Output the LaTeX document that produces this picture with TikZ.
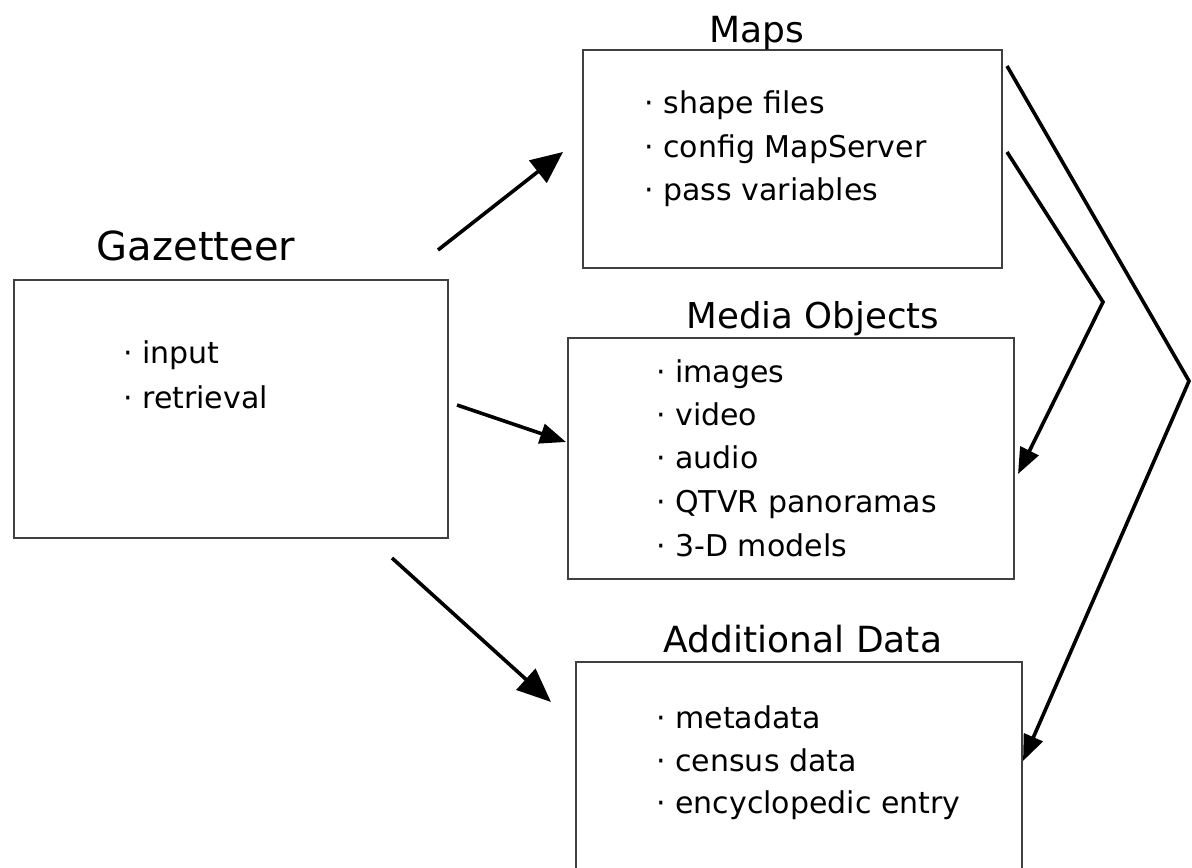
\documentclass[tikz,border=0pt]{standalone}
\usepackage{fontspec}
\setmainfont{DejaVu Sans}
\usetikzlibrary{arrows.meta}
\tikzset{
  box/.style={draw=black!75, line width=1pt, inner sep=0pt, outer sep=0pt, fill=none},
  title/.style={inner sep=0pt, anchor=base},
  item/.style={inner sep=0pt, anchor=base west, font=\fontsize{15}{18}\selectfont},
  conn/.style={line width=1.8pt, black, line join=miter},
  bigtip/.style={-{Triangle[length=16pt,width=14pt]}},
  midtip/.style={-{Triangle[length=13pt,width=10pt]}},
}
\newcommand{\bul}[1]{\makebox[0pt][r]{·\hspace{4.5pt}}#1}
\begin{document}
\begin{tikzpicture}[x=0.5pt,y=-0.5pt]
\useasboundingbox (0,0) rectangle (1192,867);
\clip (0,0) rectangle (1192,867);
\fill[white] (0,0) rectangle (1192,867);
% boxes
\node[box, minimum width=217pt, minimum height=129pt] (gaz) at (231,409) {};
\node[box, minimum width=209.5pt, minimum height=109pt] (maps) at (792.5,159) {};
\node[box, minimum width=223pt, minimum height=120.5pt] (media) at (791,458.5) {};
\node[box, minimum width=223pt, minimum height=119pt] (add) at (799,781) {};
% titles
\node[title, font=\fontsize{20}{24}\selectfont] (tgaz) at (196,260) {Gazetteer};
\node[title, font=\fontsize{18}{22}\selectfont] (tmaps) at (757,42) {Maps};
\node[title, font=\fontsize{17.8}{22}\selectfont] (tmedia) at (813,328) {Media Objects};
\node[title, font=\fontsize{18}{22}\selectfont] (tadd) at (803,652) {Additional Data};
% items
\node[item] (g1) at (142,363) {\bul{input}};
\node[item] (g2) at (142,408) {\bul{retrieval}};
\node[item] (m1) at (663,113) {\bul{shape files}};
\node[item] (m2) at (663,157) {\bul{config MapServer}};
\node[item] (m3) at (663,200) {\bul{pass variables}};
\node[item] (o1) at (675,382) {\bul{images}};
\node[item] (o2) at (675,425) {\bul{video}};
\node[item] (o3) at (675,468) {\bul{audio}};
\node[item] (o4) at (675,512) {\bul{QTVR panoramas}};
\node[item] (o5) at (675,556) {\bul{3-D models}};
\node[item] (a1) at (675,728) {\bul{metadata}};
\node[item] (a2) at (675,771) {\bul{census data}};
\node[item] (a3) at (675,813) {\bul{encyclopedic entry}};
% connector endpoints
\coordinate (gs1) at (438,250);
\coordinate (ge1) at (563,152);
\coordinate (gs2) at (457,405);
\coordinate (ge2) at (566,442);
\coordinate (gs3) at (392,558);
\coordinate (ge3) at (551,702);
\coordinate (ms1) at (1007,152);
\coordinate (mb1) at (1103,302);
\coordinate (me1) at (1018,474);
\coordinate (ms2) at (1007,66);
\coordinate (mb2) at (1189,381);
\coordinate (me2) at (1023,761);
% connectors
\draw[conn, bigtip] (gs1) -- (ge1);
\draw[conn, -{Triangle[length=13pt,width=10pt]}] (gs2) -- (ge2);
\draw[conn, -{Triangle[length=17pt,width=14pt]}] (gs3) -- (ge3);
\draw[conn, midtip] (ms1) -- (mb1) -- (me1);
\draw[conn, midtip] (ms2) -- (mb2) -- (me2);
\end{tikzpicture}
\end{document}
